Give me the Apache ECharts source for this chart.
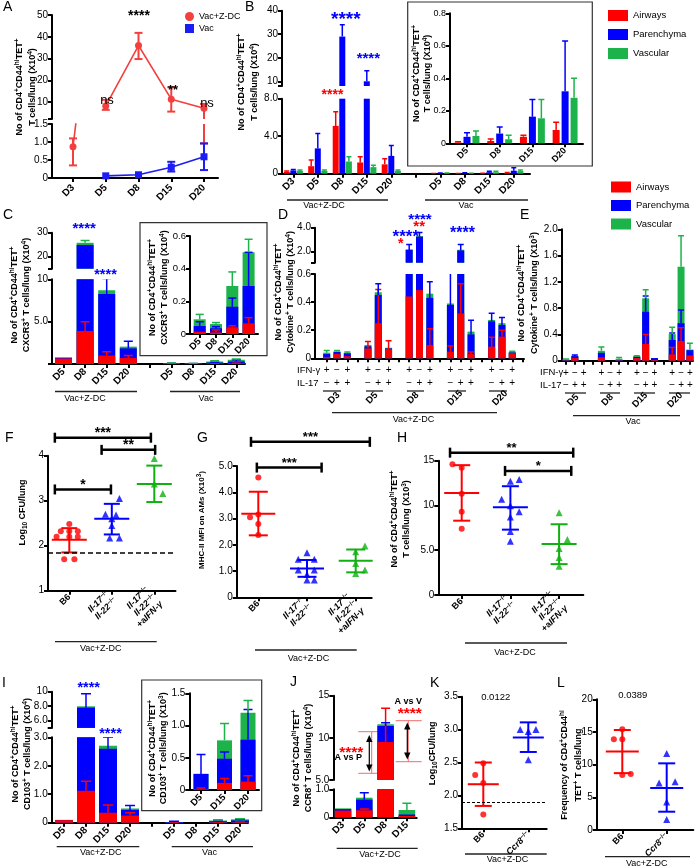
<!DOCTYPE html>
<html><head><meta charset="utf-8"><title>Figure</title>
<script src="https://cdn.jsdelivr.net/npm/echarts@6.0.0/dist/echarts.min.js"></script>
<style>html,body{margin:0;padding:0;background:#fff;}#chart{width:696px;height:867px;}</style>
</head><body><div id="chart"></div><script>
/* ================= DATA ================= */
// A
const aDays = ['D3','D5','D8','D15','D20'];
const aZdcMean = [0.87, 8.3, 36, 11.4, 7.2];
const aZdcLo   = [0.35, 6.5, 29.8, 5.7, 0.96];
const aZdcHi   = [1.1, 11.1, 41.8, 16.9, 9.2];
const aVacMean = [null, 0.06, 0.09, 0.3, 0.59];
const aVacLo   = [null, null, null, 0.18, 0.22];
const aVacHi   = [null, null, null, 0.45, 0.96];
const aTopTicks = [10, 20, 30, 40, 50];
const aBotTicks = [0, 0.5, 1.0, 1.5];
const aBotTickLabels = ['0', '0.5', '1.0', '1.5'];
// B
const bDays = ['D3','D5','D8','D15','D20','','D5','D8','D15','D20'];
const bAir = [0.2, 0.8, 5.1, 1.2, 1.0, null, 0.005, 0.014, 0.04, 0.082];
const bPar = [0.35, 2.7, 29, 10, 1.9, null, 0.04, 0.06, 0.164, 0.32];
const bVas = [0.3, 0.3, 1.3, 0.7, 0.3, null, 0.045, 0.025, 0.154, 0.28];
const bAirErr = [0.3, 1.45, 6.6, 1.8, 1.6, null, 0.01, 0.027, 0.05, 0.13];
const bParErr = [0.45, 4.3, 34, 14.5, 3.0, null, 0.065, 0.1, 0.27, 0.63];
const bVasErr = [0.4, 0.4, 1.8, 0.9, 0.4, null, 0.075, 0.05, 0.27, 0.40];
const bTopTicks = [10, 20, 30, 40];
const bBotTicks = [0, 4, 8]; const bBotTickLabels = ['0', '4.0', '8.0'];
const bInsetTicks = [0, 0.2, 0.4, 0.6, 0.8]; const bInsetTickLabels = ['0','0.2','0.4','0.6','0.8'];
// C
const cDays = ['D5','D8','D15','D20','','D5','D8','D15','D20'];
const cAir = [0.65, 3.9, 1.0, 0.7, null, 0.014, 0.01, 0.041, 0.065];
const cPar = [0.05, 21, 7.25, 1.15, null, 0.035, 0.025, 0.126, 0.229];
const cVas = [0.1, 0.9, 0.45, 0.2, null, 0.041, 0.026, 0.127, 0.206];
const cAirErr = [null, 5.0, 1.45, 1.0, null, null, 0.025, 0.05, 0.1];
const cParErr = [null, null, 10.1, 2.7, null, 0.075, 0.045, 0.22, 0.5];
const cVasErr = [null, 26.8, null, null, null, 0.12, 0.07, 0.38, 0.58];
const cTopTicks = [20, 30]; const cBotTicks = [5, 10]; const cBotTickLabels = ['5.0', '10'];
const cInsetTicks = [0, 0.2, 0.4, 0.6]; const cInsetTickLabels = ['0','0.2','0.4','0.6'];
// D
const dDays = ['D3','D5','D8','D15','D20'];
const cytoIfn = ['+','\u2212','+'];
const cytoIl17 = ['\u2212','+','+'];
const dAir = [0.01,0.03,0.015, 0.07,0.25,0.065, 0.44,0.485,0.095, 0.047,0.32,0.03, 0.083,0.154,0.036];
const dPar = [0.02,0.015,0.02, 0.015,0.2,0.005, 1.7,2.765,0.335, 0.333,1.78,0.14, 0.18,0.083,0.005];
const dVas = [0.01,0.005,0.005, 0.01,0.02,0.005, 0.06,0.05,0.03, 0.01,0.06,0.02, 0.01,0.013,0.006];
const dAirErr = [null,null,null, 0.12,0.49,0.125, null,null,0.21, 0.087,0.53,0.045, 0.15,0.2,null];
const dParErr = [null,null,null, null,0.53,null, 2.6,3.6,0.545, 1.0,2.6,0.27, 0.32,0.29,null];
const dVasErr = [0.055,0.055,0.045, null,null,null, null,null,null, null,null,null, null,null,0.05];
const dTopTicks = [2, 4]; const dTopTickLabels = ['2.0','4.0'];
const dBotTicks = [0, 0.2, 0.4, 0.6]; const dBotTickLabels = ['0','0.2','0.4','0.6'];
// E
const eDays = ['D5','D8','D15','D20'];
const eAir = [0.005,0.04,0, 0.05,0,0.005, 0.04,0.254,0.01, 0.097,0.3,0.08];
const ePar = [0.005,0.03,0, 0.07,0,0.005, 0.02,0.491,0.03, 0.218,0.27,0.08];
const eVas = [0.01,0.005,0, 0.03,0,0.02, 0.01,0.205,0, 0.09,0.86,0.01];
const eAirErr = [null,null,null, null,null,null, null,0.4,null, 0.2,0.5,null];
const eParErr = [null,0.085,null, null,null,null, null,0.985,null, 0.42,0.77,null];
const eVasErr = [0.025,null,null, 0.21,null,0.05, 0.075,1.08,null, 0.51,1.9,0.265];
const eTicks = [0, 0.4, 0.8, 1.2, 1.6, 2.0]; const eTickLabels = ['0','0.4','0.8','1.2','1.6','2.0'];
// F  (points: [group position with jitter, value])
const fGroups = ['B6', '{i|Il-17}{s|\u2212/\u2212}\n{i|Il-22}{s|\u2212/\u2212}', '{i|Il-17}{s|\u2212/\u2212}\n{i|Il-22}{s|\u2212/\u2212}\n+a{i|IFN-\u03b3}'];
const fB6Pts  = [[0,2.48],[-0.2,2.32],[0,2.32],[0.2,2.32],[-0.3,2.2],[0,2.2],[0.2,2.2],[-0.12,1.7],[0.12,1.7]];
const fKoPts  = [[1.18,3.05],[0.85,2.7],[1.1,2.68],[1.0,2.6],[1.0,2.45],[0.95,2.17],[1.18,2.17]];
const fAbPts  = [[2.0,3.94],[2.0,3.37],[2.2,3.16]];
const fMean = [2.13, 2.6, 3.37]; const fLo = [1.85, 2.25, 2.97]; const fHi = [2.39, 2.93, 3.78];
const fLimit = 1.85;
const fBrackets = [[-0.34, 1.92, 4.4], [0.76, 2.02, 4.13], [-0.34, 0.98, 3.25]];
const fBracketLabels = ['***', '**', '*'];
const fTicks = [1, 2, 3, 4];
// G
const gB6Pts = [[0,4.56],[-0.17,3.05],[0,3.15],[0,2.79],[0,2.37]];
const gKoPts = [[1,1.7],[0.82,1.45],[1.15,1.45],[0.82,1.04],[1.15,1.04],[1,0.87],[1.15,0.66],[1,0.66]];
const gAbPts = [[2.19,1.95],[2.0,1.73],[2.0,1.29],[2.19,1.04],[2.0,0.91]];
const gMean = [3.18, 1.1, 1.39]; const gLo = [2.36, 0.78, 0.95]; const gHi = [4.02, 1.42, 1.82];
const gBrackets = [[-0.15, 2.29, 5.92], [-0.03, 1.30, 4.94]];
const gBracketLabels = ['***', '***'];
const gTicks = [0,1,2,3,4,5]; const gTickLabels = ['0','1.0','2.0','3.0','4.0','5.0'];
// H
const hB6Pts = [[-0.19,14.6],[0,14.2],[0,11.3],[0,9.3],[0,7.4]];
const hKoPts = [[1,12.7],[1.18,12.9],[0.82,10.7],[1,9.97],[1.18,9.3],[1,8.7],[1,7.1],[1,6.0]];
const hAbPts = [[2,9.2],[2.17,6.2],[2,5.2],[2,4.2],[2,3.2]];
const hMean = [11.4, 9.8, 5.7]; const hLo = [8.3, 7.3, 3.45]; const hHi = [14.5, 12.15, 7.9];
const hBrackets = [[-0.24, 2.29, 15.9], [0.89, 2.25, 13.86]];
const hBracketLabels = ['**', '*'];
const hTicks = [0,5,10,15]; const hTickLabels = ['0','5.0','10','15'];
// I
const iDays = ['D5','D8','D15','D20','','D5','D8','D15','D20'];
const iZdcAir = [0.09, 1.12, 0.35, 0.25];
const iZdcPar = [0, 6.68, 2.25, 0.2];
const iZdcVas = [0.01, 0.18, 0.1, 0.05];
const iZdcAirErr = [null, 1.46, 0.62, 0.35];
const iZdcParErr = [null, 9.7, 3.0, 0.6];
const iZdcVasErr = [null, null, null, null];
// Vac group of I, in x10^3 cells (inset units)
const iVacAir = [0.01, 0, 0.11, 0.13];
const iVacPar = [0.24, 0, 0.375, 0.65];
const iVacVas = [0, 0, 0.285, 0.42];
const iVacAirErr = [0.03, null, 0.18, 0.22];
const iVacParErr = [0.55, null, 0.59, 1.25];
const iVacVasErr = [null, null, 1.03, 1.39];
const iInsetIdx = [0, 2, 3];
const iTopTicks = [6, 8, 10]; const iTopTickLabels = ['6.0','8.0','10'];
const iBotTicks = [0,1,2,3]; const iBotTickLabels = ['0','1.0','2.0','3.0'];
const iInsetTicks = [0, 0.5, 1.0, 1.5]; const iInsetTickLabels = ['0','0.5','1.0','1.5'];
// J
const jDays = ['D3','D5','D8','D15'];
const jAir = [0.24, 0.25, 9.5, 0.05];
const jPar = [0.05, 0.38, 1.9, 0.05];
const jVas = [0.03, 0.07, 0.2, 0.16];
const jAirErr = [null, 0.3, 13.5, null];
const jParErr = [null, 0.88, 11.8, null];
const jVasErr = [null, null, null, 0.5];
const jTopTicks = [5, 10, 15]; const jTopTickLabels = ['5.0','10','15'];
const jBotTicks = [0, 1]; const jBotTickLabels = ['0','1.0'];
// K
const kGroups = ['B6', '{i|Ccr8}{s|\u2212/\u2212}'];
const kB6Pts = [[0,2.49],[-0.18,2.31],[0,2.19],[0,1.71]];
const kKoPts = [[0.82,3.0],[1,2.97],[1.17,3.0],[1,2.54]];
const kMean = [2.17, 2.88]; const kLo = [1.84, 2.66]; const kHi = [2.5, 3.11];
const kLimit = 1.9;
const kTicks = [1.5, 2.0, 2.5, 3.0, 3.5]; const kTickLabels = ['1.5','2.0','2.5','3.0','3.5'];
const kP = '0.0122';
// L
const lB6Pts = [[0,15.4],[-0.19,13.9],[0,13.9],[0,8.4],[0.19,8.56]];
const lKoPts = [[1,11.7],[0.83,7.2],[1.19,7.4],[1,4.3],[1,1.6]];
const lMean = [12.0, 6.44]; const lLo = [8.7, 2.8]; const lHi = [15.3, 10.2];
const lTicks = [0,5,10,15,20];
const lP = '0.0389';

/* ================= BUILD ================= */
const FONT = '"Liberation Sans", Arial, Helvetica, sans-serif';
const RED = '#ff0000', BLUE = '#0000ff', GREEN = '#1db34b', RED_A = '#f43f3f', BLUE_A = '#1c1cf5', DGREEN = '#10b010';
const LAYERS = ['Airways','Parenchyma','Vascular'], LCOL = [RED, BLUE, GREEN];
const opt = {animation:false, backgroundColor:'#ffffff', textStyle:{fontFamily:FONT},
  grid:[], xAxis:[], yAxis:[], series:[], legend:[], graphic:{elements:[]}};
const G = opt.graphic.elements;

const TRICH = {
  s:{fontSize:6.5, fontWeight:'bold', fontFamily:FONT, fill:'#000', verticalAlign:'top', lineHeight:8},
  b:{fontSize:6.5, fontWeight:'bold', fontFamily:FONT, fill:'#000', verticalAlign:'bottom', lineHeight:8}
};
const LRICH = {
  i:{fontSize:9, fontWeight:'bold', fontStyle:'italic', fontFamily:FONT, color:'#000'},
  s:{fontSize:6, fontWeight:'bold', fontFamily:FONT, color:'#000', verticalAlign:'top', lineHeight:7}
};

function lab(ticks, labels) {
  return v => { let bi = 0, bd = Infinity; ticks.forEach((t, i) => { const d = Math.abs(t - v); if (d < bd) { bd = d; bi = i; } }); return labels[bi]; };
}
function mkAxis(gi, dim, min, max, o) {
  const a = {type:'value', gridIndex:gi, min, max, position: dim === 'x' ? 'bottom' : 'left', splitLine:{show:false}, splitArea:{show:false}};
  if (!o || o.hide) { a.show = false; a.axisLine = {onZero:false}; return a; }
  a.axisLine = {show:true, onZero:false, lineStyle:{color:'#000', width:o.lw || 2}};
  a.axisTick = o.ticks ? {show:true, customValues:o.ticks, length:o.tl || 4, lineStyle:{color:'#000', width:o.lw || 2}} : {show:false};
  a.axisLabel = o.labels ? {show:true, customValues:o.labels, formatter:o.fmt, rotate:o.rotate || 0,
    margin: o.margin == null ? 4 : o.margin, fontSize:o.fs || 10, fontWeight:o.fw || 'normal', fontFamily:FONT,
    color:'#000', lineHeight:o.lh, rich:o.rich} : {show:false};
  return a;
}
function addGrid(X, Y, xo, yo) {
  const gi = opt.grid.length;
  opt.grid.push({left:X.L, width:X.R - X.L, top:Y.T, height:Y.B - Y.T, containLabel:false, outerBoundsMode:'none'});
  opt.xAxis.push(mkAxis(gi, 'x', (X.L - X.p0) / X.s, (X.R - X.p0) / X.s, xo));
  opt.yAxis.push(mkAxis(gi, 'y', Y.vB, Y.vT, yo));
  return gi;
}
function errSeries(gi, color, posFn, from, to, o) {
  const data = [];
  to.forEach((t, i) => { if (t != null && from[i] != null) data.push([posFn(i), from[i], t]); });
  return {type:'custom', xAxisIndex:gi, yAxisIndex:gi, clip:true, silent:true, z:3, data,
    renderItem:(p, api) => {
      const x = api.value(0), a = api.coord([x, api.value(1)]), b = api.coord([x, api.value(2)]);
      const cx = a[0] + (o.dx || 0), hw = o.cap / 2, lw = o.lw || 1.5;
      const L = (x1, y1, x2, y2) => ({type:'line', shape:{x1, y1, x2, y2}, style:{stroke:color, lineWidth:lw}});
      const ch = [L(cx, a[1], cx, b[1]), L(cx - hw, b[1], cx + hw, b[1])];
      if (o.both) ch.push(L(cx - hw, a[1], cx + hw, a[1]));
      return {type:'group', children:ch};
    }};
}
// stacked look: cumulative heights drawn as overlapping bars (largest first)
function stacked(gis, posFn, layers, errs, o) {
  const cums = [];
  let cum = layers[0].map(() => 0);
  layers.forEach(vals => {
    cum = cum.map((c, i) => (vals[i] == null || c == null) ? null : c + vals[i]);
    cums.push(cum.slice());
  });
  gis.forEach(gi => {
    for (let k = layers.length - 1; k >= 0; k--) {
      opt.series.push({type:'bar', name:LAYERS[k], xAxisIndex:gi, yAxisIndex:gi, barWidth:o.w, barGap:'-100%',
        clip:true, silent:true, z:2, itemStyle:{color:LCOL[k]},
        data: cums[k].map((v, i) => [posFn(i), v == null ? '-' : v])});
    }
    cums.forEach((c, k) => opt.series.push(errSeries(gi, LCOL[k], posFn, c, errs[k], {cap:o.cap, lw:o.elw})));
  });
}
function grouped(gis, layers, errs, o) {
  gis.forEach(gi => {
    layers.forEach((vals, k) => {
      opt.series.push({type:'bar', name:LAYERS[k], xAxisIndex:gi, yAxisIndex:gi, barWidth:o.w, barGap:o.gap,
        clip:true, silent:true, z:2, itemStyle:{color:LCOL[k]},
        data: vals.map((v, i) => [i, v == null ? '-' : v])});
    });
    const step = o.w * (1 + parseFloat(o.gap) / 100);
    layers.forEach((vals, k) => {
      opt.series.push(errSeries(gi, LCOL[k], i => i, vals, errs[k], {cap:o.cap, dx:(k - 1) * step, lw:o.elw}));
    });
  });
}
function meanSd(gi, mean, lo, hi, colors, wM, wC) {
  return {type:'custom', xAxisIndex:gi, yAxisIndex:gi, silent:true, z:3,
    data: mean.map((m, i) => [i, m, lo[i], hi[i]]),
    renderItem:(p, api) => {
      const c = colors[p.dataIndex], x0 = api.value(0);
      const m = api.coord([x0, api.value(1)]), l = api.coord([x0, api.value(2)]), h = api.coord([x0, api.value(3)]);
      const x = m[0];
      const L = (x1, y1, x2, y2) => ({type:'line', shape:{x1, y1, x2, y2}, style:{stroke:c, lineWidth:2}});
      return {type:'group', children:[L(x - wM / 2, m[1], x + wM / 2, m[1]), L(x, l[1], x, h[1]),
        L(x - wC / 2, l[1], x + wC / 2, l[1]), L(x - wC / 2, h[1], x + wC / 2, h[1])]};
    }};
}
function brackets(gi, segs, labels, fs) {
  return {type:'custom', xAxisIndex:gi, yAxisIndex:gi, silent:true, clip:false, z:3, data:segs,
    renderItem:(p, api) => {
      const a = api.coord([api.value(0), api.value(2)]), b = api.coord([api.value(1), api.value(2)]);
      const y = a[1];
      const L = (x1, y1, x2, y2) => ({type:'line', shape:{x1, y1, x2, y2}, style:{stroke:'#000', lineWidth:2.5}});
      return {type:'group', children:[L(a[0], y, b[0], y), L(a[0], y - 5, a[0], y + 5), L(b[0], y - 5, b[0], y + 5),
        {type:'text', x:(a[0] + b[0]) / 2, y:y - 8 + 0.27 * fs, style:{text:labels[p.dataIndex], align:'center', verticalAlign:'middle',
          fontSize:fs, fontWeight:'bold', fontFamily:FONT, fill:'#000'}}]};
    }};
}
function scatter(gi, pts, color, sym, size) {
  return {type:'scatter', xAxisIndex:gi, yAxisIndex:gi, data:pts, symbol:sym, symbolSize:size,
    itemStyle:{color}, silent:true, z:4};
}
function T(x, y, text, o) {
  o = o || {};
  G.push({type:'text', x, y, rotation:o.rot || 0, z:10, silent:true, style:{text, fill:o.color || '#000', fontSize:o.fs || 10,
    fontWeight:o.fw || 'normal', fontStyle:o.it ? 'italic' : 'normal', fontFamily:FONT,
    align:o.align || 'center', verticalAlign:o.va || 'middle', lineHeight:o.lh || 12, rich:o.rich}});
}
function stars(cx, cy, n, fs, color) { T(cx, cy + 0.27 * fs, '*'.repeat(n), {fs, fw:'bold', color}); }
function vtitle(x, y, text, fs) { T(x, y, text, {rot:Math.PI / 2, fs:fs || 9, fw:'bold', rich:TRICH, lh:12}); }
function hline(x1, x2, y, w, c) { G.push({type:'line', silent:true, shape:{x1, y1:y, x2, y2:y}, style:{stroke:c || '#222', lineWidth:w || 1.3}}); }
function vline(x, y1, y2, w, c) { G.push({type:'line', silent:true, shape:{x1:x, y1, x2:x, y2}, style:{stroke:c || '#222', lineWidth:w || 1.3}}); }
function frame(x, y, w, h) { G.push({type:'rect', silent:true, shape:{x, y, width:w, height:h}, style:{fill:'none', stroke:'#333', lineWidth:1.2}}); }
function letter(x, capTop, s) { T(x, capTop - 2.6, s, {fs:14, align:'left', va:'top'}); }
function groupLabel(x1, x2, y, text, tx, ty) { hline(x1, x2, y); T(tx, ty, text, {fs:9}); }
function rotLabel(x, y, text) { T(x, y, text, {fs:9.5, fw:'bold', rot:Math.PI / 4}); }
const idx = arr => arr.map((d, i) => i);
const catFmt = cats => v => cats[Math.round(v)] || '';
const dayAxis = (cats, fs, margin) => ({ticks:idx(cats), labels:idx(cats).filter(i => cats[i] !== ''), fmt:catFmt(cats), rotate:45,
  fs:fs || 10, fw:'bold', margin:margin || 6});

/* ---------- Panel A ---------- */
const AX = {L:52, R:218, p0:73, s:32.75};
const gAt = addGrid(AX, {T:15, B:119, vT:50, vB:2.3}, null,
  {ticks:[2.3].concat(aTopTicks), labels:aTopTicks, fmt:v => String(Math.round(v))});
const gAb = addGrid(AX, {T:124, B:178, vT:1.5, vB:0}, dayAxis(aDays, 10, 8),
  {ticks:aBotTicks, labels:aBotTicks, fmt:lab(aBotTicks, aBotTickLabels)});
[gAt, gAb].forEach(gi => {
  const vMin = opt.yAxis[gi].min;
  opt.series.push({type:'line', name:'Vac+Z-DC', xAxisIndex:gi, yAxisIndex:gi, clip:true, silent:true, z:4,
    data: aZdcMean.map((v, i) => [i, v < vMin && gi === gAt ? '-' : v]), symbol:'circle', symbolSize:7,
    itemStyle:{color:RED_A}, lineStyle:{color:RED_A, width:1.6}});
  opt.series.push({type:'line', name:'Vac', xAxisIndex:gi, yAxisIndex:gi, clip:true, silent:true, z:4,
    data: aVacMean.map((v, i) => [i, v == null ? '-' : v]), symbol:'rect', symbolSize:7,
    itemStyle:{color:BLUE_A}, lineStyle:{color:BLUE_A, width:1.6}});
  opt.series.push(errSeries(gi, RED_A, i => i, aZdcLo, aZdcHi, {cap:8, lw:2, both:true}));
  opt.series.push(errSeries(gi, BLUE_A, i => i, aVacLo, aVacHi, {cap:8, lw:2, both:true}));
});
opt.legend.push({left:180, top:7, orient:'vertical', itemGap:3, itemWidth:9, itemHeight:9, selectedMode:false,
  textStyle:{fontSize:9, fontFamily:FONT, color:'#000'}, data:[{name:'Vac+Z-DC', icon:'circle'}, {name:'Vac', icon:'rect'}]});
letter(3, 3.5, 'A');
vtitle(20, 87, 'No of CD4{s|+}CD44{s|hi}TET{s|+}');
vtitle(32.5, 87, 'T cells/lung (X10{s|4})');
stars(139, 12, 4, 14, '#000');
T(107, 100, 'ns', {fs:13}); T(207, 103, 'ns', {fs:13});
stars(173, 86.7, 2, 13, '#000');

/* ---------- Panel B ---------- */
const BX = {L:282, R:530, p0:293.3, s:24.5};
const gBt = addGrid(BX, {T:10.7, B:86, vT:40, vB:8}, null,
  {ticks:[8].concat(bTopTicks), labels:bTopTicks, fmt:v => String(Math.round(v))});
const gBb = addGrid(BX, {T:98.7, B:173.7, vT:8, vB:0}, dayAxis(bDays),
  {ticks:bBotTicks, labels:bBotTicks, fmt:lab(bBotTicks, bBotTickLabels)});
grouped([gBt, gBb], [bAir, bPar, bVas], [bAirErr, bParErr, bVasErr], {w:6, gap:'10%', cap:5});
const bInsetDays = bDays.slice(6);
const gBi = addGrid({L:450, R:583, p0:467, s:32.7}, {T:13.3, B:143.3, vT:0.8, vB:0}, dayAxis(bInsetDays, 9, 6),
  {ticks:bInsetTicks, labels:bInsetTicks, fmt:lab(bInsetTicks, bInsetTickLabels), fs:9});
grouped([gBi], [bAir.slice(6), bPar.slice(6), bVas.slice(6)], [bAirErr.slice(6), bParErr.slice(6), bVasErr.slice(6)], {w:7, gap:'28%', cap:6});
frame(407.7, 2, 184.6, 164);
letter(245, 3.5, 'B');
vtitle(242, 82, 'No of CD4{s|+}CD44{s|hi}TET{s|+}');
vtitle(254.3, 82, 'T cells/lung (X10{s|4})');
vtitle(416.5, 73.5, 'No of CD4{s|+}CD44{s|hi}TET{s|+}');
vtitle(427.7, 73.5, 'T cells/lung (X10{s|4})');
stars(345.8, 14.2, 4, 19, BLUE);
stars(332.5, 91.7, 4, 14, RED);
stars(368.3, 54.5, 4, 15, BLUE);
groupLabel(287, 388, 200, 'Vac+Z-DC', 324, 205.5);
groupLabel(425, 528, 200, 'Vac', 466, 205.5);
opt.legend.push({left:603, top:5, orient:'vertical', itemGap:8, itemWidth:20, itemHeight:11, selectedMode:false,
  textStyle:{fontSize:9.5, fontFamily:FONT, color:'#000'}, data:LAYERS.map(n => ({name:n, icon:'rect'}))});

/* ---------- Panel C ---------- */
const CX = {L:52, R:245, p0:63.5, s:21.6};
const gCt = addGrid(CX, {T:232.7, B:268.7, vT:30, vB:15}, null,
  {ticks:[15].concat(cTopTicks), labels:cTopTicks, fmt:v => String(Math.round(v))});
const gCb = addGrid(CX, {T:279.3, B:364, vT:10, vB:0}, dayAxis(cDays),
  {ticks:[0].concat(cBotTicks), labels:cBotTicks, fmt:lab(cBotTicks, cBotTickLabels)});
stacked([gCt, gCb], i => i, [cAir, cPar, cVas], [cAirErr, cParErr, cVasErr], {w:17, cap:9});
const cInsetDays = cDays.slice(5);
const gCi = addGrid({L:190, R:258, p0:199.7, s:16.3}, {T:236, B:334, vT:0.6, vB:0}, dayAxis(cInsetDays, 9.5, 6),
  {ticks:cInsetTicks, labels:cInsetTicks, fmt:lab(cInsetTicks, cInsetTickLabels), fs:9.5});
stacked([gCi], i => i, [cAir.slice(5), cPar.slice(5), cVas.slice(5)], [cAirErr.slice(5), cParErr.slice(5), cVasErr.slice(5)], {w:12, cap:8});
frame(140, 222.7, 127, 133);
letter(3, 212, 'C');
vtitle(15, 295, 'No of CD4{s|+}CD44{s|hi}TET{s|+}');
vtitle(26.5, 295, 'CXCR3{s|+} T cells/lung (X10{s|4})');
vtitle(152.7, 287.5, 'No of CD4{s|+}CD44{s|hi}TET{s|+}');
vtitle(165, 287.5, 'CXCR3{s|+} T cells/lung (X10{s|4})');
stars(84.2, 224.5, 4, 15, BLUE);
stars(105.5, 270.8, 4, 14.5, BLUE);
groupLabel(55, 137, 391.5, 'Vac+Z-DC', 85, 398.5);
groupLabel(170, 240, 391.5, 'Vac', 206, 398.5);

/* ---------- Panel D ---------- */
const cytoPos = i => Math.floor(i / 3) * 4 + (i % 3);
const cytoAxis = n => {
  const ticks = [], labels = [];
  for (let p = 0; p < n * 4; p++) { ticks.push(p); if (p % 4 < 3) labels.push(p); }
  return {ticks, labels, fmt:v => { const b = Math.round(v) % 4; return b < 3 ? cytoIfn[b] + '\n' + cytoIl17[b] : ''; },
    fs:10, lh:13, margin:5};
};
const DX = {L:315, R:524, p0:326.7, s:10.31};
const gDt = addGrid(DX, {T:227.7, B:262.7, vT:4, vB:1.08}, null,
  {ticks:[1.08].concat(dTopTicks), labels:dTopTicks, fmt:lab(dTopTicks, dTopTickLabels)});
const gDb = addGrid(DX, {T:274, B:358.3, vT:0.6, vB:0}, cytoAxis(dDays.length),
  {ticks:dBotTicks, labels:dBotTicks, fmt:lab(dBotTicks, dBotTickLabels)});
stacked([gDt, gDb], cytoPos, [dAir, dPar, dVas], [dAirErr, dParErr, dVasErr], {w:7, cap:6});
letter(278, 212, 'D');
vtitle(279, 292, 'No of CD4{s|+}CD44{s|hi}TET{s|+}');
vtitle(290.5, 292, 'Cytokine{s|+} T cells/lung (X10{s|4})');
T(297, 370, 'IFN-\u03b3', {fs:9.5, align:'left'});
T(297, 383.3, 'IL-17', {fs:9.5, align:'left'});
stars(405.8, 232.5, 4, 17, BLUE);
stars(400.8, 240, 1, 14, RED);
stars(420, 215.8, 4, 15, BLUE);
stars(419.2, 222.5, 2, 15, RED);
stars(462.5, 229.2, 4, 16, BLUE);
[[323,341],[366,383],[407,424],[448,466],[489,507]].forEach(s => hline(s[0], s[1], 391));
[[334,398],[372,398],[413,398],[455,398],[500,398]].forEach((p, i) => rotLabel(p[0], p[1], dDays[i]));
groupLabel(332, 497, 412.7, 'Vac+Z-DC', 413.5, 419.5);

/* ---------- Panel E ---------- */
const gE = addGrid({L:561.7, R:693, p0:566, s:8.85}, {T:229.3, B:360.7, vT:2, vB:0},
  Object.assign(cytoAxis(eDays.length), {lh:12.3, margin:6}),
  {ticks:eTicks, labels:eTicks, fmt:lab(eTicks, eTickLabels)});
stacked([gE], cytoPos, [eAir, ePar, eVas], [eAirErr, eParErr, eVasErr], {w:7, cap:6});
letter(520, 212, 'E');
vtitle(521.7, 293, 'No of CD4{s|+}CD44{s|hi}TET{s|+}');
vtitle(535, 293, 'Cytokine{s|+} T cells/lung (X10{s|3})');
T(540, 372.7, 'IFN-\u03b3', {fs:9.5, align:'left'});
T(540, 385, 'IL-17', {fs:9.5, align:'left'});
[[565,586],[600,620],[634,655],[669,690]].forEach(s => hline(s[0], s[1], 393));
[[573,400],[607.5,400],[640,400],[675,400]].forEach((p, i) => rotLabel(p[0], p[1], eDays[i]));
groupLabel(573, 680, 415.7, 'Vac', 633, 421.7);
opt.legend.push({left:606, top:176.5, orient:'vertical', itemGap:7.5, itemWidth:20, itemHeight:11, selectedMode:false,
  textStyle:{fontSize:9.5, fontFamily:FONT, color:'#000'}, data:LAYERS.map(n => ({name:n, icon:'rect'}))});

/* ---------- Panel F ---------- */
const grpAxis = cats => ({ticks:idx(cats), labels:idx(cats), fmt:catFmt(cats), rotate:45, fs:9, fw:'bold', margin:5, rich:LRICH, lh:10});
const gF = addGrid({L:48, R:175.5, p0:69.3, s:42.5}, {T:455.7, B:590.7, vT:4, vB:1}, grpAxis(fGroups),
  {ticks:fTicks, labels:fTicks, fmt:v => String(Math.round(v))});
opt.series.push(scatter(gF, fB6Pts, RED, 'circle', 6));
opt.series.push(scatter(gF, fKoPts, BLUE, 'triangle', 7));
opt.series.push(scatter(gF, fAbPts, DGREEN, 'triangle', 7));
opt.series.push(meanSd(gF, fMean, fLo, fHi, [RED, BLUE, DGREEN], 35, 16));
opt.series.push(brackets(gF, fBrackets, fBracketLabels, 14));
opt.series.push({type:'line', xAxisIndex:gF, yAxisIndex:gF, data:[], silent:true,
  markLine:{silent:true, symbol:'none', label:{show:false}, lineStyle:{type:[5,3], color:'#000', width:1.5}, data:[{yAxis:fLimit}]}});
letter(5, 435, 'F');
vtitle(22.5, 512.5, 'Log{b|10} CFU/lung');
groupLabel(55, 156.7, 641.7, 'Vac+Z-DC', 100.7, 649);

/* ---------- Panel G ---------- */
const gG = addGrid({L:236.7, R:371.7, p0:258.3, s:48.7}, {T:466, B:597.3, vT:5, vB:0}, grpAxis(fGroups),
  {ticks:gTicks, labels:gTicks, fmt:lab(gTicks, gTickLabels)});
opt.series.push(scatter(gG, gB6Pts, RED, 'circle', 6));
opt.series.push(scatter(gG, gKoPts, BLUE, 'triangle', 7));
opt.series.push(scatter(gG, gAbPts, DGREEN, 'triangle', 7));
opt.series.push(meanSd(gG, gMean, gLo, gHi, [RED, BLUE, DGREEN], 34, 19));
opt.series.push(brackets(gG, gBrackets, gBracketLabels, 13));
letter(197, 435, 'G');
vtitle(201.7, 520, 'MHC-II MFI on AMs (X10{s|3})', 8);
groupLabel(255, 356.7, 650, 'Vac+Z-DC', 308.5, 658.5);

/* ---------- Panel H ---------- */
const gH = addGrid({L:438.3, R:583.3, p0:461.7, s:48.7}, {T:460.7, B:595, vT:15, vB:0}, grpAxis(fGroups),
  {ticks:hTicks, labels:hTicks, fmt:lab(hTicks, hTickLabels)});
opt.series.push(scatter(gH, hB6Pts, RED, 'circle', 6));
opt.series.push(scatter(gH, hKoPts, BLUE, 'triangle', 7));
opt.series.push(scatter(gH, hAbPts, DGREEN, 'triangle', 7));
opt.series.push(meanSd(gH, hMean, hLo, hHi, [RED, BLUE, DGREEN], 35, 17));
opt.series.push(brackets(gH, hBrackets, hBracketLabels, 13));
letter(397, 435, 'H');
vtitle(395, 519, 'No of CD4{s|+}CD44{s|hi}TET{s|+}');
vtitle(406.7, 519, 'T cells/lung (X10{s|3})');
groupLabel(465, 567, 643, 'Vac+Z-DC', 515, 653);

/* ---------- Panel I ---------- */
const iMain = (zdc, vac) => zdc.concat([null], vac.map(v => v == null ? null : v / 10));
const IX = {L:51.7, R:248, p0:64, s:22};
const gIt = addGrid(IX, {T:691.7, B:727.9, vT:10, vB:5}, null,
  {ticks:[5].concat(iTopTicks), labels:iTopTicks, fmt:lab(iTopTicks, iTopTickLabels)});
const gIb = addGrid(IX, {T:737.3, B:822.7, vT:3, vB:0}, dayAxis(iDays),
  {ticks:iBotTicks, labels:iBotTicks, fmt:lab(iBotTicks, iBotTickLabels)});
stacked([gIt, gIb], i => i,
  [iMain(iZdcAir, iVacAir), iMain(iZdcPar, iVacPar), iMain(iZdcVas, iVacVas)],
  [iMain(iZdcAirErr, iVacAirErr), iMain(iZdcParErr, iVacParErr), iMain(iZdcVasErr, iVacVasErr)], {w:18, cap:10});
const pick = arr => iInsetIdx.map(k => arr[k]);
const iInsetDays = pick(iDays.slice(5));
const gIi = addGrid({L:189.3, R:259, p0:201, s:23.5}, {T:693.3, B:790, vT:1.5, vB:0}, dayAxis(iInsetDays, 9.5, 6),
  {ticks:iInsetTicks, labels:iInsetTicks, fmt:lab(iInsetTicks, iInsetTickLabels)});
stacked([gIi], i => i, [pick(iVacAir), pick(iVacPar), pick(iVacVas)],
  [pick(iVacAirErr), pick(iVacParErr), pick(iVacVasErr)], {w:15, cap:9});
frame(141.7, 680, 120, 130.7);
letter(2, 680, 'I');
vtitle(16, 754, 'No of CD4{s|+}CD44{s|hi}TET{s|+}');
vtitle(27.5, 754, 'CD103{s|+} T cells/lung (X10{s|4})');
vtitle(152.7, 748.3, 'No of CD4{s|+}CD44{s|hi}TET{s|+}');
vtitle(164, 748.3, 'CD103{s|+} T cells/lung (X10{s|3})');
stars(88.7, 684.5, 4, 14.5, BLUE);
stars(110.5, 729.7, 4, 14.5, BLUE);
groupLabel(56.7, 139.3, 846.7, 'Vac+Z-DC', 100.7, 852.7);
groupLabel(171.7, 253, 846.7, 'Vac', 209.5, 852.7);

/* ---------- Panel J ---------- */
const JX = {L:333.3, R:416.7, p0:343, s:21.3};
const gJt = addGrid(JX, {T:695.7, B:780, vT:15, vB:5}, null,
  {ticks:jTopTicks, labels:jTopTicks, fmt:lab(jTopTicks, jTopTickLabels)});
const gJb = addGrid(JX, {T:789.3, B:817.3, vT:1, vB:0}, dayAxis(jDays),
  {ticks:jBotTicks, labels:jBotTicks, fmt:lab(jBotTicks, jBotTickLabels)});
stacked([gJt, gJb], i => i, [jAir, jPar, jVas], [jAirErr, jParErr, jVasErr], {w:16.5, cap:9});
letter(290, 678.5, 'J');
vtitle(296.7, 758, 'No of CD4{s|+}CD44{s|hi}TET{s|+}');
vtitle(308.3, 758, 'CCR8{s|+} T cells/lung (X10{s|4})');
T(408.3, 701.7, 'A vs V', {fs:9, fw:'bold'});
stars(409.7, 710, 4, 15.5, RED);
stars(351.3, 748.3, 4, 15.5, RED);
T(348.3, 758, 'A vs P', {fs:9, fw:'bold'});
function dblArrow(x, y1, y2) {
  vline(x, y1 + 5, y2 - 5, 1.2, '#000');
  G.push({type:'polygon', silent:true, shape:{points:[[x, y1], [x - 3.2, y1 + 7], [x + 3.2, y1 + 7]]}, style:{fill:'#000'}});
  G.push({type:'polygon', silent:true, shape:{points:[[x, y2], [x - 3.2, y2 - 7], [x + 3.2, y2 - 7]]}, style:{fill:'#000'}});
}
const SALMON = '#f26d6d';
hline(358.3, 381.7, 731.7, 1, SALMON); hline(358.3, 380, 773.3, 1, SALMON); vline(371.7, 731.7, 773.3, 1, SALMON);
dblArrow(369.3, 735, 771.5);
hline(395.7, 421.7, 720.7, 1, SALMON); hline(395.7, 421.7, 761.7, 1, SALMON); vline(408.3, 720.7, 761.7, 1, SALMON);
dblArrow(407.3, 722.5, 759.5);
groupLabel(336.7, 417.7, 848.3, 'Vac+Z-DC', 380, 855);

/* ---------- Panel K ---------- */
const gK = addGrid({L:462, R:546.7, p0:483.3, s:45}, {T:696.7, B:828.3, vT:3.5, vB:1.5}, grpAxis(kGroups),
  {ticks:kTicks, labels:kTicks, fmt:lab(kTicks, kTickLabels)});
opt.series.push(scatter(gK, kB6Pts, RED, 'circle', 6));
opt.series.push(scatter(gK, kKoPts, BLUE, 'triangle', 7));
opt.series.push(meanSd(gK, kMean, kLo, kHi, [RED, BLUE], 31, 17));
opt.series.push({type:'line', xAxisIndex:gK, yAxisIndex:gK, data:[], silent:true,
  markLine:{silent:true, symbol:'none', label:{show:false}, lineStyle:{type:[3,2], color:'#000', width:1}, data:[{yAxis:kLimit}]}});
letter(430, 680, 'K');
vtitle(432.3, 753.3, 'Log{b|10}CFU/lung');
T(495.7, 697, kP, {fs:9.5});
groupLabel(465, 546.7, 854, 'Vac+Z-DC', 507.5, 860);

/* ---------- Panel L ---------- */
const gL = addGrid({L:596.7, R:693.3, p0:622.3, s:44.4}, {T:699.3, B:830, vT:20, vB:0}, grpAxis(kGroups),
  {ticks:lTicks, labels:lTicks, fmt:v => String(Math.round(v))});
opt.series.push(scatter(gL, lB6Pts, RED, 'circle', 6));
opt.series.push(scatter(gL, lKoPts, BLUE, 'triangle', 7));
opt.series.push(meanSd(gL, lMean, lLo, lHi, [RED, BLUE], 33, 17));
letter(557, 680, 'L');
vtitle(565, 765, 'Frequency of CD4{s|+}CD44{s|hi}');
vtitle(578.3, 765, 'TET{s|+} T cells/lung');
T(632.8, 695.5, lP, {fs:9.5});
groupLabel(605, 690, 856.7, 'Vac+Z-DC', 646.7, 863.5);

const chart = echarts.init(document.getElementById('chart'), null, {renderer:'canvas', width:696, height:867});
chart.setOption(opt);
</script></body></html>
